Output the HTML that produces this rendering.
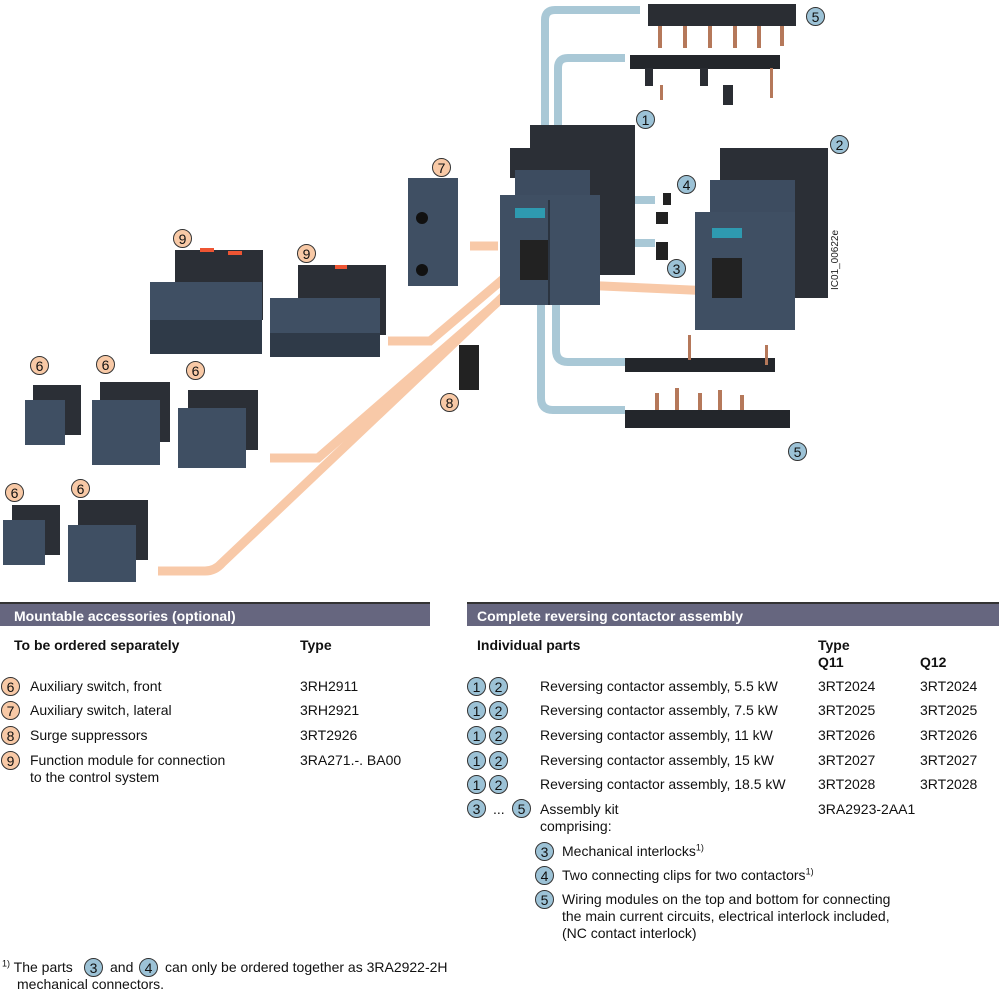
<!DOCTYPE html>
<html><head><meta charset="utf-8"><style>
body{margin:0;background:#fff;}
#w{position:relative;width:1000px;height:996px;overflow:hidden;font-family:"Liberation Sans",Arial,sans-serif;font-size:14px;color:#111;}
.a{position:absolute;white-space:nowrap;line-height:17px;}
.bar{position:absolute;height:24px;background:#66667f;border-top:2px solid #333;color:#fff;font-weight:bold;font-size:14px;line-height:24px;padding-left:14px;box-sizing:border-box;}
.b{font-weight:bold;}
.c{position:absolute;width:19px;height:19px;border-radius:50%;border:1px solid #333;box-sizing:border-box;text-align:center;line-height:18px;font-size:14px;}
.o{background:#f8c9a6;}.l{background:#9cc2d6;}
sup{font-size:9px;line-height:0;}
</style></head><body><div id="w">
<svg width="1000" height="600" style="position:absolute;left:0;top:0" font-family="Liberation Sans,Arial,sans-serif">
<g fill="none" stroke-linecap="butt">
<!-- blue lines -->
<path d="M545,165 V20 Q545,10 555,10 H640" stroke="#a9c8d6" stroke-width="8"/>
<path d="M558,165 V68 Q558,58 568,58 H625" stroke="#a9c8d6" stroke-width="8"/>
<path d="M600,200 H655" stroke="#a9c8d6" stroke-width="8"/>
<path d="M595,243 H655" stroke="#a9c8d6" stroke-width="8"/>
<path d="M556,305 V350 Q556,362 568,362 H625" stroke="#a9c8d6" stroke-width="8"/>
<path d="M541,305 V398 Q541,410 553,410 H625" stroke="#a9c8d6" stroke-width="8"/>
<!-- orange lines -->
<g stroke="#f8c9a8" stroke-width="9">
<path d="M470,246 H498"/>
<path d="M388,341 H430 L528,258"/>
<path d="M270,458 H318 L500,300 L550,258"/>
<path d="M158,571 H205 Q215,571 222,563 L510,290 L525,268"/>
<path d="M555,270 Q560,285 580,285 L735,292 Q748,292 748,280"/>
</g>
</g>
<!-- top bus -->
<g fill="#b5785a"><rect x="658" y="26" width="4" height="22"/><rect x="683" y="26" width="4" height="22"/><rect x="708" y="26" width="4" height="22"/><rect x="733" y="26" width="4" height="22"/><rect x="757" y="26" width="4" height="22"/><rect x="780" y="26" width="4" height="20"/></g>
<rect x="648" y="4" width="148" height="22" fill="#2a2d33"/>
<rect x="630" y="55" width="150" height="14" fill="#23262b"/>
<g fill="#2a2d33"><rect x="645" y="68" width="8" height="18"/><rect x="700" y="68" width="8" height="18"/><rect x="723" y="85" width="10" height="20"/></g>
<g fill="#b5785a"><rect x="660" y="85" width="3" height="15"/><rect x="770" y="68" width="3" height="30"/></g>
<!-- contactor 1 -->
<rect x="530" y="125" width="105" height="150" fill="#2b2f36"/>
<rect x="510" y="148" width="30" height="30" fill="#2b2f36"/>
<rect x="515" y="170" width="75" height="32" fill="#3d4c60"/>
<rect x="500" y="195" width="100" height="110" fill="#3f4f63"/>
<rect x="515" y="208" width="30" height="10" fill="#2e9ab0"/>
<rect x="520" y="240" width="30" height="40" fill="#222"/>
<rect x="548" y="200" width="2" height="105" fill="#2b3440"/>
<!-- contactor 2 -->
<rect x="720" y="148" width="108" height="150" fill="#2b2f36"/>
<rect x="710" y="180" width="85" height="32" fill="#3d4c60"/>
<rect x="695" y="212" width="100" height="118" fill="#3f4f63"/>
<rect x="712" y="228" width="30" height="10" fill="#2e9ab0"/>
<rect x="712" y="258" width="30" height="40" fill="#222"/>
<!-- small parts -->
<rect x="663" y="193" width="8" height="12" fill="#222"/><rect x="656" y="212" width="12" height="12" fill="#222"/>
<rect x="656" y="242" width="12" height="18" fill="#222"/>
<!-- 7 -->
<rect x="408" y="178" width="50" height="108" fill="#3f4f63"/>
<circle cx="422" cy="218" r="6" fill="#111"/><circle cx="422" cy="270" r="6" fill="#111"/>
<!-- 9 modules -->
<rect x="175" y="250" width="88" height="70" fill="#2b2f36"/>
<rect x="150" y="282" width="112" height="72" fill="#3f4f63"/>
<rect x="150" y="320" width="112" height="34" fill="#2f3a48"/>
<rect x="298" y="265" width="88" height="70" fill="#2b2f36"/>
<rect x="270" y="298" width="110" height="58" fill="#3f4f63"/>
<rect x="270" y="333" width="110" height="24" fill="#2f3a48"/>
<g fill="#e53"><rect x="200" y="248" width="14" height="4"/><rect x="228" y="251" width="14" height="4"/><rect x="335" y="265" width="12" height="4"/></g>
<!-- 6 modules -->
<rect x="33" y="385" width="48" height="50" fill="#2b2f36"/><rect x="25" y="400" width="40" height="45" fill="#3f4f63"/>
<rect x="100" y="382" width="70" height="60" fill="#2b2f36"/><rect x="92" y="400" width="68" height="65" fill="#3f4f63"/>
<rect x="188" y="390" width="70" height="60" fill="#2b2f36"/><rect x="178" y="408" width="68" height="60" fill="#3f4f63"/>
<rect x="12" y="505" width="48" height="50" fill="#2b2f36"/><rect x="3" y="520" width="42" height="45" fill="#3f4f63"/>
<rect x="78" y="500" width="70" height="60" fill="#2b2f36"/><rect x="68" y="525" width="68" height="57" fill="#3f4f63"/>
<!-- 8 -->
<rect x="459" y="345" width="20" height="45" fill="#222"/>
<!-- bottom bus -->
<rect x="625" y="358" width="150" height="14" fill="#23262b"/>
<rect x="688" y="335" width="3" height="25" fill="#b5785a"/><rect x="765" y="345" width="3" height="20" fill="#b5785a"/>
<g fill="#b5785a"><rect x="655" y="393" width="4" height="20"/><rect x="675" y="388" width="4" height="25"/><rect x="698" y="393" width="4" height="20"/><rect x="718" y="390" width="4" height="22"/><rect x="740" y="395" width="4" height="18"/></g>
<rect x="625" y="410" width="165" height="18" fill="#23262b"/>
<text transform="translate(838,290) rotate(-90)" font-size="10" fill="#222">IC01_00622e</text>
</svg>
<div class="c l" style="left:806px;top:7px">5</div>
<div class="c l" style="left:636px;top:110px">1</div>
<div class="c l" style="left:830px;top:135px">2</div>
<div class="c l" style="left:677px;top:175px">4</div>
<div class="c l" style="left:667px;top:259px">3</div>
<div class="c o" style="left:432px;top:158px">7</div>
<div class="c o" style="left:173px;top:229px">9</div>
<div class="c o" style="left:297px;top:244px">9</div>
<div class="c o" style="left:30px;top:356px">6</div>
<div class="c o" style="left:96px;top:355px">6</div>
<div class="c o" style="left:186px;top:361px">6</div>
<div class="c o" style="left:440px;top:393px">8</div>
<div class="c o" style="left:5px;top:483px">6</div>
<div class="c o" style="left:71px;top:479px">6</div>
<div class="c l" style="left:788px;top:442px">5</div>

<div class="bar" style="left:0;top:602px;width:430px">Mountable accessories (optional)</div>
<div class="bar" style="left:467px;top:602px;width:532px;padding-left:10px">Complete reversing contactor assembly</div>

<div class="a b" style="left:14px;top:637px">To be ordered separately</div>
<div class="a b" style="left:300px;top:637px">Type</div>
<div class="c o" style="left:1px;top:677px">6</div><div class="a" style="left:30px;top:678px">Auxiliary switch, front</div><div class="a" style="left:300px;top:678px">3RH2911</div>
<div class="c o" style="left:1px;top:701px">7</div><div class="a" style="left:30px;top:702px">Auxiliary switch, lateral</div><div class="a" style="left:300px;top:702px">3RH2921</div>
<div class="c o" style="left:1px;top:726px">8</div><div class="a" style="left:30px;top:727px">Surge suppressors</div><div class="a" style="left:300px;top:727px">3RT2926</div>
<div class="c o" style="left:1px;top:751px">9</div><div class="a" style="left:30px;top:752px">Function module for connection<br>to the control system</div><div class="a" style="left:300px;top:752px">3RA271.-. BA00</div>

<div class="a b" style="left:477px;top:637px">Individual parts</div>
<div class="a b" style="left:818px;top:637px">Type<br>Q11</div>
<div class="a b" style="left:920px;top:654px">Q12</div>

<div class="c l" style="left:467px;top:677px">1</div><div class="c l" style="left:489px;top:677px">2</div><div class="a" style="left:540px;top:678px">Reversing contactor assembly, 5.5 kW</div><div class="a" style="left:818px;top:678px">3RT2024</div><div class="a" style="left:920px;top:678px">3RT2024</div>
<div class="c l" style="left:467px;top:701px">1</div><div class="c l" style="left:489px;top:701px">2</div><div class="a" style="left:540px;top:702px">Reversing contactor assembly, 7.5 kW</div><div class="a" style="left:818px;top:702px">3RT2025</div><div class="a" style="left:920px;top:702px">3RT2025</div>
<div class="c l" style="left:467px;top:726px">1</div><div class="c l" style="left:489px;top:726px">2</div><div class="a" style="left:540px;top:727px">Reversing contactor assembly, 11 kW</div><div class="a" style="left:818px;top:727px">3RT2026</div><div class="a" style="left:920px;top:727px">3RT2026</div>
<div class="c l" style="left:467px;top:751px">1</div><div class="c l" style="left:489px;top:751px">2</div><div class="a" style="left:540px;top:752px">Reversing contactor assembly, 15 kW</div><div class="a" style="left:818px;top:752px">3RT2027</div><div class="a" style="left:920px;top:752px">3RT2027</div>
<div class="c l" style="left:467px;top:775px">1</div><div class="c l" style="left:489px;top:775px">2</div><div class="a" style="left:540px;top:776px">Reversing contactor assembly, 18.5 kW</div><div class="a" style="left:818px;top:776px">3RT2028</div><div class="a" style="left:920px;top:776px">3RT2028</div>
<div class="c l" style="left:467px;top:799px">3</div><div class="a" style="left:493px;top:801px">...</div><div class="c l" style="left:512px;top:799px">5</div><div class="a" style="left:540px;top:801px">Assembly kit<br>comprising:</div><div class="a" style="left:818px;top:801px">3RA2923-2AA1</div>
<div class="c l" style="left:535px;top:842px">3</div><div class="a" style="left:562px;top:843px">Mechanical interlocks<sup>1)</sup></div>
<div class="c l" style="left:535px;top:866px">4</div><div class="a" style="left:562px;top:867px">Two connecting clips for two contactors<sup>1)</sup></div>
<div class="c l" style="left:535px;top:890px">5</div><div class="a" style="left:562px;top:891px">Wiring modules on the top and bottom for connecting<br>the main current circuits, electrical interlock included,<br>(NC contact interlock)</div>

<div class="a" style="left:2px;top:959px"><sup>1)</sup> The parts</div>
<div class="c l" style="left:84px;top:958px">3</div>
<div class="a" style="left:110px;top:959px">and</div>
<div class="c l" style="left:139px;top:958px">4</div>
<div class="a" style="left:165px;top:959px">can only be ordered together as 3RA2922-2H</div>
<div class="a" style="left:17px;top:976px">mechanical connectors.</div>
</div></body></html>
